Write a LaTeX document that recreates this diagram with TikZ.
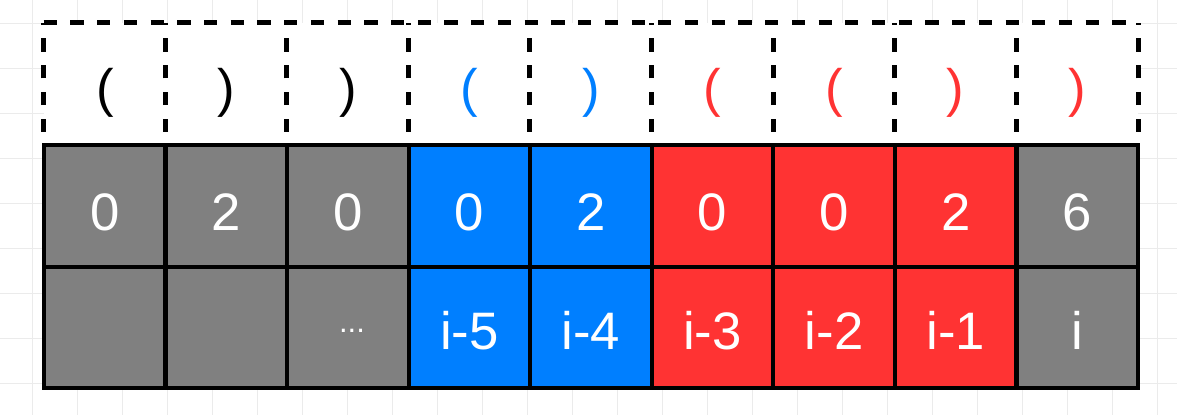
\documentclass[tikz,border=0pt]{standalone}
\usepackage{fontspec}
\setmainfont{Liberation Sans}

\definecolor{cellgray}{HTML}{808080}
\definecolor{cellblue}{HTML}{007FFF}
\definecolor{cellred}{HTML}{FF3333}
\definecolor{gridgray}{HTML}{EBEBEB}

\tikzset{
  gridline/.style={gridgray, line width=0.7pt},
  slot/.style={fill=white, minimum width=3.039cm, minimum height=3.05cm, inner sep=0pt},
  dashline/.style={line width=3.5pt, dash pattern=on 9.4pt off 9.6pt},
  cell/.style={draw=black, line width=3pt, minimum width=3.039cm, minimum height=3.03cm, inner sep=0pt},
  big/.style={font=\fontsize{37.5}{40}\selectfont, inner sep=0pt, anchor=base},
}

\begin{document}
\begin{tikzpicture}[x=0.025cm, y=-0.025cm]
\useasboundingbox (0,0) rectangle (1177,415);
\fill[white] (0,0) rectangle (1177,415);
% background grid
\foreach \gx in {32,77,...,1157}
  \draw[gridline] (\gx,0) -- (\gx,415);
\foreach \gy in {23,68,...,413}
  \draw[gridline] (0,\gy) -- (1177,\gy);

% columns: bracket / bracket colour / value / fill / index
\foreach \br/\bc/\val/\fc/\idx [count=\k] in {
    {(}/black/0/cellgray/{},
    {)}/black/2/cellgray/{},
    {)}/black/0/cellgray/{},
    {(}/cellblue/0/cellblue/{i-5},
    {)}/cellblue/2/cellblue/{i-4},
    {(}/cellred/0/cellred/{i-3},
    {(}/cellred/0/cellred/{i-2},
    {)}/cellred/2/cellred/{i-1},
    {)}/cellred/6/cellgray/{i}}
{
  \pgfmathsetmacro\cx{44+(\k-0.5)*121.56}
  \node[slot] (t\k) at (\cx,84) {};
  \node[big, text=\bc] (b\k) at (\cx,106) {\br};
  \node[cell, fill=\fc] (v\k) at (\cx,206) {};
  \node[big, text=white] (s\k) at (\cx,230) {\val};
  \node[cell, fill=\fc] (d\k) at (\cx,327.5) {};
  \node[big, text=white] (i\k) at (\cx,349) {\idx};
}
\node[font=\fontsize{22}{24}\selectfont, text=white, inner sep=0pt, anchor=base] (dots) at (352,332) {...};

% dashed frame of the bracket row
\draw[dashline] (t1.north west) -- (t9.north east);
\foreach \k in {1,...,9}
  \draw[dashline, dash phase=9.4pt] (t\k.south west) -- (t\k.north west);
\draw[dashline, dash phase=9.4pt] (t9.south east) -- (t9.north east);
\end{tikzpicture}
\end{document}
